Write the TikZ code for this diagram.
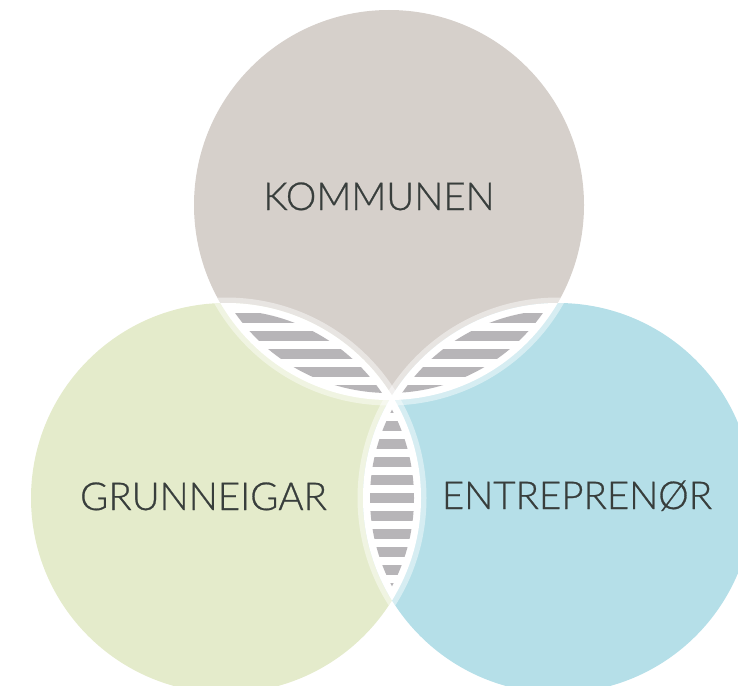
\documentclass[tikz,border=0pt]{standalone}
\usepackage{fontspec}
\setmainfont{Lato}[UprightFont={* Light}, UprightFeatures={FakeBold=0.7}]
\definecolor{topc}{RGB}{214,208,203}
\definecolor{leftc}{RGB}{228,235,203}
\definecolor{rightc}{RGB}{181,223,232}
\definecolor{stripec}{RGB}{183,181,184}
\definecolor{txtc}{RGB}{56,62,60}
\newcommand\drawmystripes{\foreach \k in {0,...,18} \fill[stripec] (150,{295+18*\k}) rectangle (650,{304.5+18*\k});}
\begin{document}
\begin{tikzpicture}[x=1pt,y=-1pt,
  vtext/.style={font=\fontsize{38.5}{40}\selectfont, text=txtc, inner sep=0pt, anchor=base},
  ring/.style={white, opacity=0.45, line width=11pt}]
\useasboundingbox (0,0) rectangle (738,685);
\clip (0,0) rectangle (738,685);
\coordinate (T) at (389,205);
\coordinate (L) at (226,498);
\coordinate (R) at (558,498);
% circles
\fill[topc] (T) circle (195pt);
\fill[leftc] (L) circle (195pt);
\fill[rightc] (R) circle (195pt);
% light bands where an edge crosses another circle
\foreach \a/\b in {T/L,T/R,L/T,L/R,R/T,R/L}{
  \begin{scope}\clip (\b) circle (195pt); \draw[ring] (\a) circle (195pt);\end{scope}
}
% white lenses
\begin{scope}\clip (T) circle (195pt); \fill[white] (L) circle (195pt);\end{scope}
\begin{scope}\clip (T) circle (195pt); \fill[white] (R) circle (195pt);\end{scope}
\begin{scope}\clip (L) circle (195pt); \fill[white] (R) circle (195pt);\end{scope}
% stripes
\begin{scope}\clip (T) circle (188pt); \clip (L) circle (188pt); \drawmystripes\end{scope}
\begin{scope}\clip (T) circle (188pt); \clip (R) circle (188pt); \drawmystripes\end{scope}
\begin{scope}\clip (L) circle (188pt); \clip (R) circle (188pt); \drawmystripes\end{scope}
% labels
\node[vtext] (kommunen) at (379,210) {KOMMUNEN};
\node[vtext] (grunneigar) at (203.5,510) {GRUNNEIGAR};
\node[vtext] (entreprenor) at (577,509) {ENTREPRENØR};
\end{tikzpicture}
\end{document}
